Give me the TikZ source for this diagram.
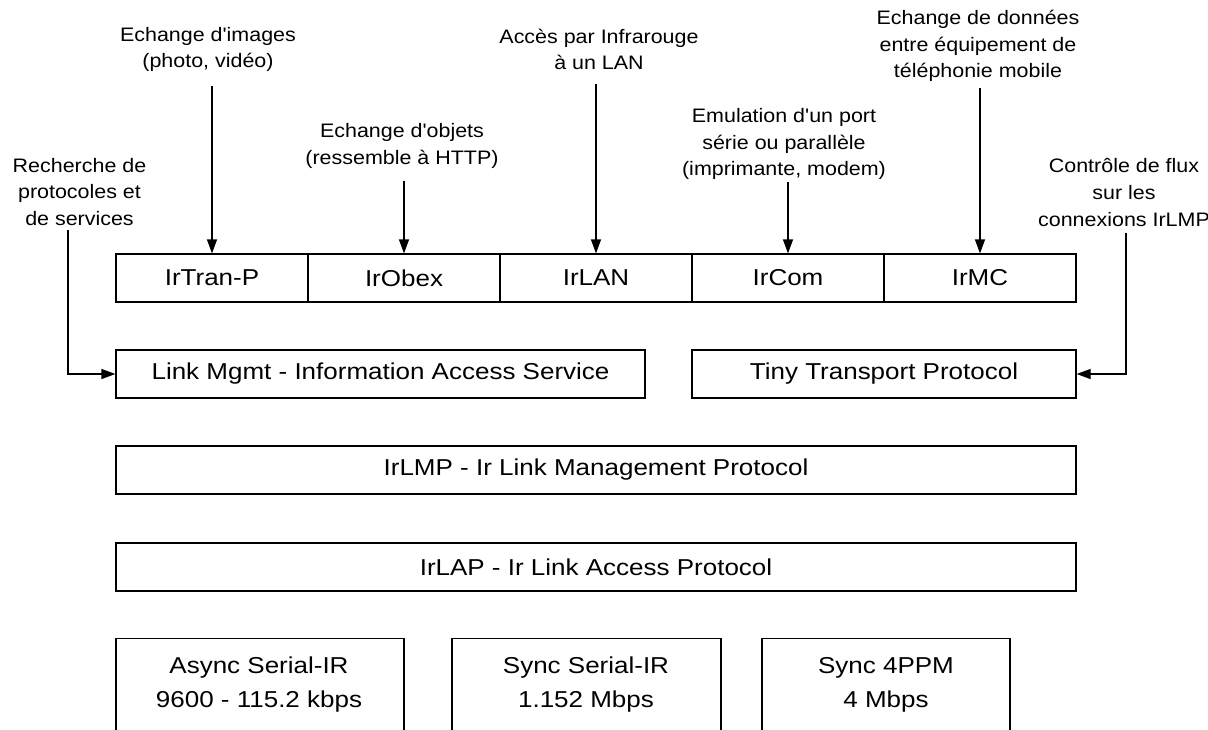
\documentclass[tikz,border=0pt]{standalone}
\usepackage{fontspec}
\setmainfont{Liberation Sans}
\newfontfamily\boxfont[FakeStretch=1.13]{Liberation Sans}
\newfontfamily\lblfont[FakeStretch=1.1]{Liberation Sans}
\usetikzlibrary{arrows.meta}
\tikzset{
  box/.style={draw, line width=1.2pt, inner sep=0pt, font=\boxfont\fontsize{23}{30}\selectfont},
  lbl/.style={align=center, inner sep=0pt, font=\lblfont\fontsize{19.5}{26.7}\selectfont},
  btxt/.style={inner sep=0pt, font=\boxfont\fontsize{23}{30}\selectfont},
  conn/.style={line width=1.2pt, -{Triangle[length=14pt,width=10pt]}},
}
\begin{document}
\begin{tikzpicture}[x=1pt,y=-1pt]
\useasboundingbox (0,0) rectangle (1208,729);
\clip (0,0) rectangle (1208,729);
% top row
\node[box, minimum width=192, minimum height=48] (tran) at (212,278) {IrTran-P};
\node[box, minimum width=192, minimum height=48] (obex) at (404,278) {IrObex};
\node[box, minimum width=192, minimum height=48] (lan)  at (596,278) {IrLAN};
\node[box, minimum width=192, minimum height=48] (com)  at (788,278) {IrCom};
\node[box, minimum width=192, minimum height=48] (mc)   at (980,278) {IrMC};
% second row
\node[box, minimum width=529, minimum height=48] (lm) at (380.5,374) {Link Mgmt - Information Access Service};
\node[box, minimum width=384, minimum height=48] (ttp) at (884,374) {Tiny Transport Protocol};
% IrLMP / IrLAP
\node[box, minimum width=960, minimum height=48] (lmp) at (596,470) {IrLMP - Ir Link Management Protocol};
\node[box, minimum width=960, minimum height=48] (lap) at (596,567) {IrLAP - Ir Link Access Protocol};
% bottom boxes (cut by the picture's lower edge)
\node[box, minimum width=288, minimum height=130, anchor=north] (async) at (260,638) {};
\node[box, minimum width=269, minimum height=130, anchor=north] (sync) at (586.5,638) {};
\node[box, minimum width=248, minimum height=130, anchor=north] (ppm) at (886,638) {};
\node[btxt] (asynct1) at (259,668) {Async Serial-IR};
\node[btxt] (asynct2) at (259,702) {9600 - 115.2 kbps};
\node[btxt] (synct1) at (586,668) {Sync Serial-IR};
\node[btxt] (synct2) at (586,702) {1.152 Mbps};
\node[btxt] (ppmt1) at (886,668) {Sync 4PPM};
\node[btxt] (ppmt2) at (886,702) {4 Mbps};
% labels
\node[lbl] (limg) at (208,49.5) {Echange d'images\\(photo, vidéo)};
\node[lbl] (lobj) at (402,146) {Echange d'objets\\(ressemble à HTTP)};
\node[lbl] (llan) at (599,49.5) {Accès par Infrarouge\\à un LAN};
\node[lbl] (lcom) at (784,144) {Emulation d'un port\\série ou parallèle\\(imprimante, modem)};
\node[lbl] (lmc) at (978,46) {Echange de données\\entre équipement de\\téléphonie mobile};
\node[lbl] (lrech) at (79.5,192) {Recherche de\\protocoles et\\de services};
\node[lbl] (lctrl) at (1124,192.5) {Contrôle de flux\\sur les\\connexions IrLMP};
% connectors
\draw[conn] (limg.south -| tran.north) ++(0,14) -- (tran.north);
\draw[conn] (lobj.south -| obex.north) ++(0,12) -- (obex.north);
\draw[conn] (llan.south -| lan.north) ++(0,14) -- (lan.north);
\draw[conn] (lcom.south -| com.north) ++(0,2) -- (com.north);
\draw[conn] (lmc.south -| mc.north) ++(0,6) -- (mc.north);
\coordinate (crech) at (68,230);
\coordinate (cctrl) at (1126,233);
\draw[conn] (crech) |- (lm.west);
\draw[conn] (cctrl) |- (ttp.east);
\end{tikzpicture}
\end{document}
